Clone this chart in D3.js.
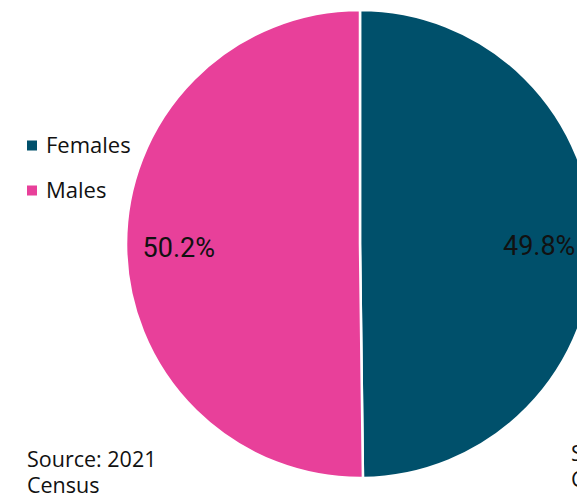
<!DOCTYPE html>
<html>
<head>
<meta charset="utf-8">
<script src="https://cdn.jsdelivr.net/npm/d3@7"></script>
<style>
  html, body { margin: 0; padding: 0; background: #fff; overflow: hidden; }
  svg { display: block; }
</style>
</head>
<body>
<svg id="chart" width="577" height="498"></svg>
<script>
// Population by sex
const categories = ["Females", "Males"];
const shares = [49.8, 50.2];
const colors = ["#00506b", "#e8409a"];
const sourceLines = ["Source: 2021", "Census"];

const W = 577, H = 498;
const cx = 360, cy = 244, R = 234;
const svg = d3.select("#chart");

const pie = d3.pie().sort(null).value(d => d)(shares);
const arc = d3.arc().innerRadius(0).outerRadius(R);
const labelArc = d3.arc().innerRadius(R * 0.77).outerRadius(R * 0.77);

const g = svg.append("g").attr("transform", `translate(${cx},${cy})`);
g.selectAll("path.slice")
  .data(pie)
  .join("path")
  .attr("class", "slice")
  .attr("d", arc)
  .attr("fill", (d, i) => colors[i])
  .attr("stroke", "#fff")
  .attr("stroke-width", 2.5);

g.selectAll("text.pct")
  .data(pie)
  .join("text")
  .attr("class", "pct")
  .attr("transform", d => {
    const [x, y] = labelArc.centroid(d);
    return `translate(${x - 1},${y + 2})`;
  })
  .attr("text-anchor", "middle")
  .attr("dy", "0.36em")
  .attr("font-family", "Roboto, 'Liberation Sans', sans-serif")
  .attr("font-size", 27)
  .attr("fill", "#111")
  .text(d => d.data.toFixed(1) + "%");

// Legend
const legend = svg.append("g").attr("transform", "translate(27,145.5)");
const item = legend.selectAll("g.item")
  .data(categories)
  .join("g")
  .attr("class", "item")
  .attr("transform", (d, i) => `translate(0,${i * 45})`);
item.append("rect")
  .attr("x", 0).attr("y", -5)
  .attr("width", 10).attr("height", 10)
  .attr("fill", (d, i) => colors[i]);
item.append("text")
  .attr("x", 19)
  .attr("dy", "0.36em")
  .attr("font-family", "'Open Sans', 'Noto Sans', sans-serif")
  .attr("font-size", 22)
  .attr("fill", "#111")
  .text(d => d);

// Source notes
function sourceNote(x, y) {
  const t = svg.append("text")
    .attr("font-family", "'Open Sans', 'Noto Sans', sans-serif")
    .attr("font-size", 21.5)
    .attr("fill", "#111");
  t.selectAll("tspan")
    .data(sourceLines)
    .join("tspan")
    .attr("x", x)
    .attr("y", (d, i) => y + i * 26)
    .text(d => d);
}
sourceNote(27, 467);
sourceNote(571, 461);
</script>
</body>
</html>
